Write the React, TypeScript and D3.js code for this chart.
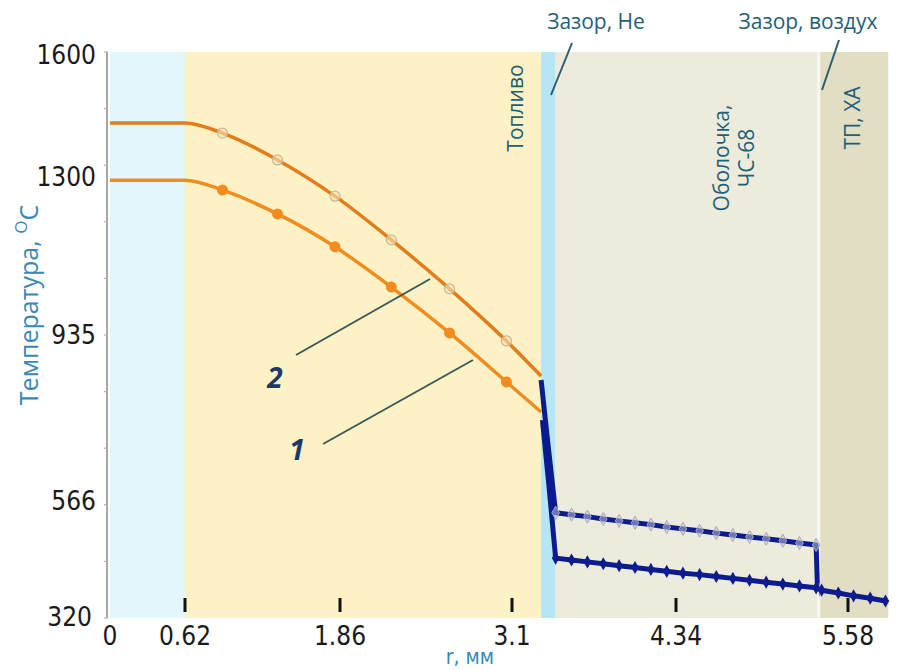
import * as d3 from 'd3'

// axis labels (the original axes are labelled at uneven spots, so the scales are piecewise)
const X_TICKS = [0, 0.62, 1.86, 3.1, 4.34, 5.58]
const Y_TICKS = [320, 566, 935, 1300, 1600]

// zones along the radius, mm
const ZONES = [
  { name: 'hole', r0: 0, r1: 0.62, color: '#e2f6fc' },
  { name: 'fuel', r0: 0.62, r1: 3.32, color: '#fdf2c5' },
  { name: 'gapHe', r0: 3.32, r1: 3.43, color: '#b6e5f4' },
  { name: 'clad', r0: 3.43, r1: 5.36, color: '#edebdc' },
  { name: 'gapAir', r0: 5.36, r1: 5.38, color: '#f7f7f1' },
  { name: 'tc', r0: 5.38, r1: 5.87, color: '#e1dec4' },
]

// fuel part (orange), markers at index 2..7
const R_FUEL = [0, 0.62, 0.92, 1.36, 1.82, 2.23, 2.65, 3.06, 3.32]
const T2_FUEL = [1431, 1431, 1407, 1343, 1258, 1157, 1044, 924, 846]
const T1_FUEL = [1295, 1295, 1272, 1217, 1141, 1048, 942, 833, 766]

// steep drop across the He gap
const R2_GAP = [3.32, 3.37]
const T2_GAP = [837, 700]
const R1_GAP = [3.33, 3.38]
const T1_GAP = [748, 600]

// cladding (blue)
const R_CLAD = [3.43, 3.55, 3.67, 3.79, 3.91, 4.03, 4.15, 4.27, 4.39, 4.51, 4.63, 4.75, 4.87, 4.99, 5.11, 5.23, 5.35]
const T2_CLAD = [543, 539, 535, 530, 526, 522, 518, 513, 509, 505, 500, 496, 492, 488, 484, 479, 475]
const T1_CLAD = [447, 443, 439, 435, 431, 427, 423, 419, 415, 412, 408, 404, 400, 396, 392, 388, 384]

// end of curve 2 at the air gap
const R2_DROP = [5.35, 5.36]
const T2_DROP = [475, 384]
const R_AIR = [5.375, 5.375]
const T_AIR = [394, 366]

// thermocouple part
const R_TC = [5.39, 5.51, 5.62, 5.74, 5.85]
const T1_TC = [379, 373, 367, 362, 356]

const W = 898
const H = 670
const TEAL = '#3b88b3'
const LABEL = '#1f5f78'
const NARROW = "'Liberation Sans Narrow', 'DejaVu Sans Condensed', 'Arial Narrow', sans-serif"
const SANS = "'Open Sans', 'Noto Sans', sans-serif"

const zip = (xs: number[], ys: number[]) => xs.map((x, i) => [x, ys[i]] as [number, number])

export default function App() {
  const x = d3.scaleLinear().domain(X_TICKS).range([110, 185, 340, 512, 676, 848])
  const y = d3.scaleLinear().domain(Y_TICKS).range([618, 502, 336, 178, 52])
  const minor = d3.scaleLinear().domain([0, 10]).range([618, 52])

  const smooth = d3.line<[number, number]>().x((d) => x(d[0])).y((d) => y(d[1])).curve(d3.curveMonotoneX)
  const straight = d3.line<[number, number]>().x((d) => x(d[0])).y((d) => y(d[1]))

  const fuel2 = zip(R_FUEL, T2_FUEL)
  const fuel1 = zip(R_FUEL, T1_FUEL)
  const clad2 = zip(R_CLAD, T2_CLAD)
  const clad1 = zip(R_CLAD, T1_CLAD)
  const tc1 = zip(R_TC, T1_TC)

  const blue2 = [...zip(R2_GAP, T2_GAP), ...clad2, ...zip(R2_DROP, T2_DROP).slice(1)]
  const blue1 = [...zip(R1_GAP, T1_GAP), ...clad1, ...tc1]

  const top = y(1600)
  const bottom = y(320)
  const diamond = d3.symbol().type(d3.symbolDiamond).size(50)()

  return (
    <svg width={W} height={H} style={{ position: 'absolute', left: 0, top: 0, background: '#fff' }}>
      {/* zones */}
      {ZONES.map((z) => (
        <rect key={z.name} x={x(z.r0)} y={top} width={x(z.r1) - x(z.r0)} height={bottom - top} fill={z.color} />
      ))}

      {/* y axis */}
      <line x1={107} x2={107} y1={top} y2={bottom} stroke="#8a8a8a" strokeWidth={1.5} />
      {d3.range(11).map((i) => (
        <line key={i} x1={104} x2={108} y1={minor(i)} y2={minor(i)} stroke="#b0b0b0" strokeWidth={1.2} />
      ))}
      {Y_TICKS.map((t, i) => (
        <text
          key={t}
          x={i === 0 ? 92 : 96}
          y={y(t) + (i === Y_TICKS.length - 1 ? 4 : 0)}
          textAnchor="end"
          dominantBaseline="middle"
          fontFamily={NARROW}
          fontSize={26}
          fill="#1a1a1a"
        >
          {t}
        </text>
      ))}

      {/* x ticks (inside the plot) */}
      {X_TICKS.slice(1).map((t) => (
        <line key={t} x1={x(t)} x2={x(t)} y1={bottom - 20} y2={bottom - 6} stroke="#111" strokeWidth={3} />
      ))}
      {X_TICKS.map((t) => (
        <text key={t} x={x(t)} y={637} textAnchor="middle" dominantBaseline="middle" fontFamily={NARROW} fontSize={26} fill="#1a1a1a">
          {t}
        </text>
      ))}

      {/* axis titles */}
      <text x={470} y={664} textAnchor="middle" fontFamily={NARROW} fontSize={21} fill={TEAL}>
        r, мм
      </text>
      <text transform="translate(38,305) rotate(-90)" textAnchor="middle" fontFamily={SANS} fontSize={25} fill={TEAL}>
        Температура, <tspan fontSize={17} dy={-11}>O</tspan>
        <tspan dy={11}>C</tspan>
      </text>

      {/* orange fuel curves */}
      <path d={smooth(fuel2) ?? ''} fill="none" stroke="#e27d19" strokeWidth={3.5} />
      <path d={smooth(fuel1) ?? ''} fill="none" stroke="#f28c1e" strokeWidth={3.5} />
      {fuel2.slice(2, 8).map((d, i) => (
        <circle key={i} cx={x(d[0])} cy={y(d[1])} r={5} fill="rgba(250,225,180,0.6)" stroke="#c9b79a" strokeWidth={1.2} />
      ))}
      {fuel1.slice(2, 8).map((d, i) => (
        <circle key={i} cx={x(d[0])} cy={y(d[1])} r={5.5} fill="#f28c1e" />
      ))}

      {/* blue curves */}
      <path d={straight(blue2) ?? ''} fill="none" stroke="#0c1b8e" strokeWidth={5} strokeLinejoin="round" />
      <path d={straight(blue1) ?? ''} fill="none" stroke="#0c1b8e" strokeWidth={5} strokeLinejoin="round" />
      <path d={straight(zip(R_AIR, T_AIR)) ?? ''} fill="none" stroke="#9a9aa8" strokeWidth={1.5} />
      {clad2.map((d, i) => (
        <path key={i} d={diamond ?? ''} transform={`translate(${x(d[0])},${y(d[1])})`} fill="rgba(190,190,210,0.55)" stroke="#a9a9c4" strokeWidth={1} />
      ))}
      {[...clad1, ...tc1].map((d, i) => (
        <path key={i} d={diamond ?? ''} transform={`translate(${x(d[0])},${y(d[1])})`} fill="#0c1b8e" />
      ))}

      {/* zone labels */}
      <text transform={`translate(${x(3.1) + 11},108) rotate(-90)`} textAnchor="middle" fontFamily={SANS} fontSize={21} fill={LABEL}>
        Топливо
      </text>
      <text transform={`translate(729,158) rotate(-90)`} textAnchor="middle" fontFamily={SANS} fontSize={21} fill={LABEL}>
        Оболочка,
      </text>
      <text transform={`translate(754,158) rotate(-90)`} textAnchor="middle" fontFamily={SANS} fontSize={21} fill={LABEL}>
        ЧС-68
      </text>
      <text transform={`translate(${x(5.58) + 12},118) rotate(-90)`} textAnchor="middle" fontFamily={SANS} fontSize={21} fill={LABEL}>
        ТП, ХА
      </text>

      {/* gap labels */}
      <text x={596} y={23} textAnchor="middle" dominantBaseline="middle" fontFamily={SANS} fontSize={21} fill={LABEL}>
        Зазор, He
      </text>
      <line x1={572} y1={43} x2={551} y2={95} stroke="#2f5f6e" strokeWidth={2} />
      <text x={808} y={23} textAnchor="middle" dominantBaseline="middle" fontFamily={SANS} fontSize={21} fill={LABEL}>
        Зазор, воздух
      </text>
      <line x1={839} y1={40} x2={822} y2={90} stroke="#2f5f6e" strokeWidth={2} />

      {/* curve numbers */}
      <line x1={296} y1={355} x2={430} y2={279} stroke="#3d5858" strokeWidth={2} />
      <line x1={323} y1={444} x2={473} y2={360} stroke="#3d5858" strokeWidth={2} />
      <text x={275} y={381} textAnchor="middle" dominantBaseline="middle" fontFamily={SANS} fontSize={28} fontWeight="bold" fontStyle="italic" fill="#1b3a6b">
        2
      </text>
      <text x={297} y={453} textAnchor="middle" dominantBaseline="middle" fontFamily={SANS} fontSize={28} fontWeight="bold" fontStyle="italic" fill="#1b3a6b">
        1
      </text>
    </svg>
  )
}
